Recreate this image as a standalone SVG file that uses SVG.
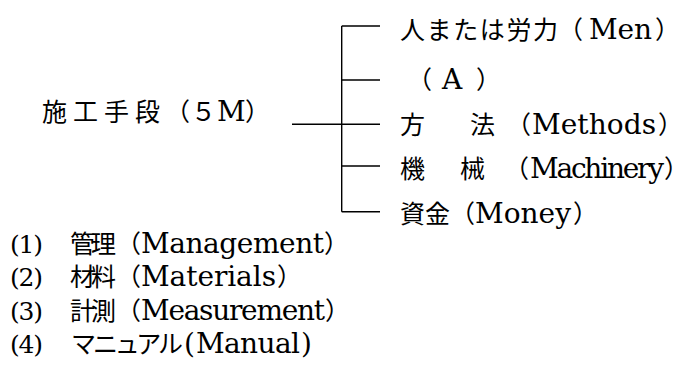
<svg xmlns="http://www.w3.org/2000/svg" width="689" height="365" viewBox="0 0 689 365">
<style>
text{fill:#000;font-size:25px;font-family:"Noto Sans CJK JP","Noto Sans CJK SC",sans-serif;}
.l{font-family:"DejaVu Serif","Liberation Serif",serif;font-size:28px;}
.n{font-family:"DejaVu Serif","Liberation Serif",serif;font-size:25px;}
.c{stroke:#000;stroke-width:1.4;fill:none;}
</style>
<rect width="689" height="365" fill="#fff"/>
<g id="connectors">
<path class="c" d="M292 124.3H341.7M341.7 26V211.7M341.7 26H380M341.7 80H380M341.7 124.3H380M341.7 166H380M341.7 211.7H380"/>
</g>
<g id="root">
<text y="120.5"><tspan x="42" textLength="118">施工手段</tspan><tspan x="165">（</tspan><tspan x="191">５</tspan><tspan class="l" x="217" textLength="26">M</tspan><tspan x="245">）</tspan></text>
</g>
<g id="men">
<text y="38.5"><tspan x="400" textLength="158">人または労力</tspan><tspan x="558">（</tspan><tspan class="l" x="589" textLength="63">Men</tspan><tspan x="655">）</tspan></text>
</g>
<g id="a">
<text y="88.5"><tspan x="407">（</tspan><tspan class="l" x="442" textLength="21">A</tspan><tspan x="476">）</tspan></text>
</g>
<g id="methods">
<text y="133.5"><tspan x="400">方</tspan><tspan x="470">法</tspan><tspan x="506">（</tspan><tspan class="l" x="532" textLength="124">Methods</tspan><tspan x="658">）</tspan></text>
</g>
<g id="machinery">
<text y="177.5"><tspan x="400">機</tspan><tspan x="460">械</tspan><tspan x="504">（</tspan><tspan class="l" x="530" textLength="134">Machinery</tspan><tspan x="664">）</tspan></text>
</g>
<g id="money">
<text y="222.5"><tspan x="400" textLength="50">資金</tspan><tspan x="450">（</tspan><tspan class="l" x="475" textLength="96">Money</tspan><tspan x="573">）</tspan></text>
</g>
<g id="item1">
<text y="252.5"><tspan class="n" x="10" textLength="33">(1)</tspan><tspan x="70" textLength="46">管理</tspan><tspan x="116">（</tspan><tspan class="l" x="141" textLength="183">Management</tspan><tspan x="324">）</tspan></text>
</g>
<g id="item2">
<text y="285.5"><tspan class="n" x="10" textLength="33">(2)</tspan><tspan x="70" textLength="46">材料</tspan><tspan x="116">（</tspan><tspan class="l" x="141" textLength="135">Materials</tspan><tspan x="277">）</tspan></text>
</g>
<g id="item3">
<text y="319.5"><tspan class="n" x="10" textLength="33">(3)</tspan><tspan x="70" textLength="46">計測</tspan><tspan x="116">（</tspan><tspan class="l" x="141" textLength="184">Measurement</tspan><tspan x="325">）</tspan></text>
</g>
<g id="item4">
<text y="352.5"><tspan class="n" x="10" textLength="33">(4)</tspan><tspan x="71" textLength="112">マニュアル</tspan><tspan class="l" x="184">(</tspan><tspan class="l" x="196" textLength="104">Manual</tspan><tspan class="l" x="301">)</tspan></text>
</g>
</svg>
